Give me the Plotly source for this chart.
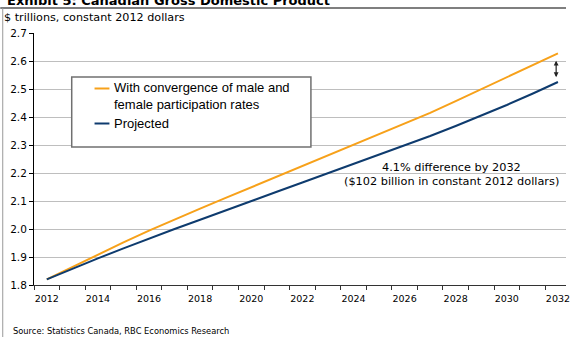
import plotly.graph_objects as go

# Canadian real GDP, $ trillions (constant 2012 dollars)
years = list(range(2012, 2033))
convergence = [1.820, 1.865, 1.909, 1.952, 1.994, 2.034, 2.073, 2.111, 2.149, 2.187,
               2.225, 2.263, 2.301, 2.338, 2.376, 2.415, 2.457, 2.500, 2.542, 2.584, 2.627]
projected = [1.820, 1.858, 1.895, 1.931, 1.966, 2.000, 2.033, 2.067, 2.100, 2.133,
             2.166, 2.199, 2.232, 2.265, 2.298, 2.332, 2.368, 2.405, 2.443, 2.483, 2.525]
series_names = ["With convergence of male and<br>female participation rates", "Projected"]
x_labels = [str(y) for y in range(2012, 2033, 2)]

ORANGE = "#F7A11A"
NAVY = "#0E3B6E"

W, H = 570, 337
L, R, T, B = 34, 0, 33, 52
PW, PH = W - L - R, H - T - B


def px(xp):
    return (xp - L) / PW


def py(yp):
    return (H - B - yp) / PH


fig = go.Figure()
fig.add_trace(go.Scatter(x=years, y=convergence, mode="lines", name=series_names[0],
                         line=dict(color=ORANGE, width=2), showlegend=False))
fig.add_trace(go.Scatter(x=years, y=projected, mode="lines", name=series_names[1],
                         line=dict(color=NAVY, width=2), showlegend=False))

shapes = [
    # frame rule under the title and left border
    dict(type="line", xref="paper", yref="paper", x0=px(0), x1=px(W), y0=py(8), y1=py(8),
         line=dict(color="#555555", width=1.5)),
    dict(type="line", xref="paper", yref="paper", x0=px(2.5), x1=px(2.5), y0=py(8), y1=py(H),
         line=dict(color="#999999", width=1)),
    # legend box
    dict(type="rect", xref="paper", yref="paper", x0=px(72), x1=px(313), y0=py(147), y1=py(77),
         fillcolor="white", line=dict(color="#707070", width=1.5), layer="above"),
    dict(type="line", xref="paper", yref="paper", x0=px(95), x1=px(110), y0=py(88.5), y1=py(88.5),
         line=dict(color=ORANGE, width=2), layer="above"),
    dict(type="line", xref="paper", yref="paper", x0=px(95), x1=px(110), y0=py(123.5), y1=py(123.5),
         line=dict(color=NAVY, width=2), layer="above"),
]

annotations = [
    dict(text="<b>Exhibit 5: Canadian Gross Domestic Product</b>", xref="paper", yref="paper",
         x=px(5), y=py(0.5), xanchor="left", yanchor="middle", showarrow=False,
         font=dict(family="DejaVu Sans", size=13, color="#000000")),
    dict(text="$ trillions, constant 2012 dollars", xref="paper", yref="paper",
         x=px(2), y=py(17), xanchor="left", yanchor="middle", showarrow=False,
         font=dict(family="DejaVu Sans", size=11.2, color="#000000")),
    dict(text="Source: Statistics Canada, RBC Economics Research", xref="paper", yref="paper",
         x=px(11), y=py(331), xanchor="left", yanchor="middle", showarrow=False,
         font=dict(family="DejaVu Sans", size=8.3, color="#000000")),
    dict(text=series_names[0], xref="paper", yref="paper", align="left",
         x=px(113), y=py(96), xanchor="left", yanchor="middle", showarrow=False,
         font=dict(family="Liberation Sans", size=13, color="#000000")),
    dict(text=series_names[1], xref="paper", yref="paper",
         x=px(113), y=py(123.5), xanchor="left", yanchor="middle", showarrow=False,
         font=dict(family="Liberation Sans", size=13, color="#000000")),
    dict(text="4.1% difference by 2032", xref="x", yref="y",
         x=2027.83, y=2.221, xanchor="center", yanchor="middle", showarrow=False,
         font=dict(family="DejaVu Sans", size=11.3, color="#000000")),
    dict(text="($102 billion in constant 2012 dollars)", xref="x", yref="y",
         x=2027.83, y=2.168, xanchor="center", yanchor="middle", showarrow=False,
         font=dict(family="DejaVu Sans", size=11.3, color="#000000")),
    # double-headed arrow marking the gap in 2032
    dict(xref="x", yref="y", axref="x", ayref="y",
         x=2031.93, y=convergence[-1] - 0.026, ax=2031.93, ay=projected[-1] + 0.012,
         text="", showarrow=True, arrowhead=2, startarrowhead=2, arrowside="end+start",
         arrowsize=0.8, startarrowsize=0.8, arrowwidth=1.2, arrowcolor="#222222"),
]

fig.update_layout(
    width=W, height=H,
    margin=dict(l=L, r=R, t=T, b=B, pad=0),
    paper_bgcolor="white", plot_bgcolor="white",
    shapes=shapes, annotations=annotations,
    xaxis=dict(
        range=[2011.5, 2011.5 + PW / 25.75],
        tickvals=list(range(2012, 2033, 2)), ticktext=x_labels,
        ticks="outside", ticklen=5, tickcolor="rgba(0,0,0,0)",
        ticklabeloverflow="allow",
        tickfont=dict(family="DejaVu Sans", size=9.5, color="#000000"),
        showline=True, linecolor="#333333", linewidth=1,
        showgrid=False, zeroline=False,
        minor=dict(tick0=2011.5, dtick=1, ticks="outside", ticklen=4,
                   tickcolor="#333333", tickwidth=1, showgrid=False),
    ),
    yaxis=dict(
        range=[1.8, 2.7], dtick=0.1, tick0=1.8, tickformat=".1f",
        ticks="outside", ticklen=4, tickcolor="#000000",
        tickfont=dict(family="DejaVu Sans", size=10.5, color="#000000"),
        showline=True, linecolor="#000000", linewidth=1,
        showgrid=True, gridcolor="#BEBEBE", gridwidth=1, zeroline=False,
    ),
)

fig.write_html("out.html")
